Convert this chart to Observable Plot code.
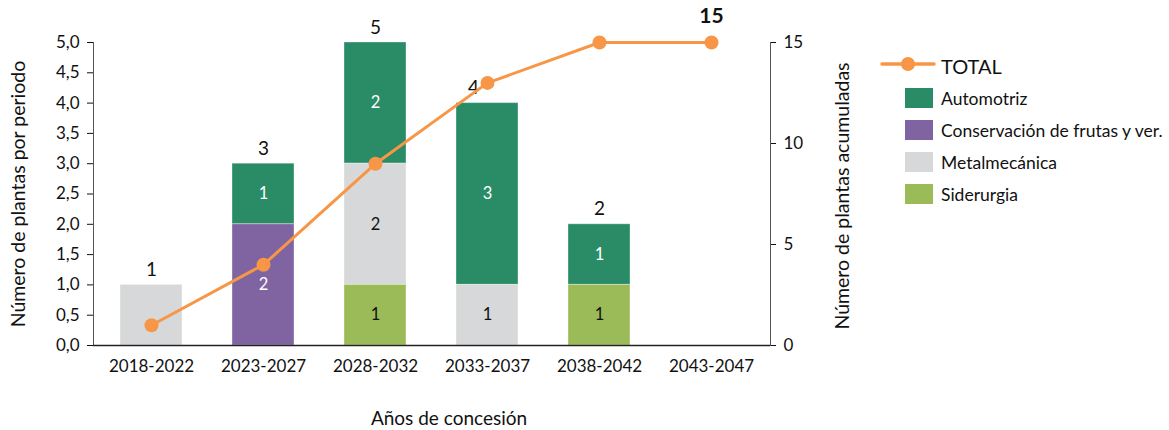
<!DOCTYPE html>
<html><head><meta charset="utf-8">
<script src="https://cdn.jsdelivr.net/npm/d3@7"></script>
<script src="https://cdn.jsdelivr.net/npm/@observablehq/plot@0.6"></script>
<style>
body{margin:0;background:#fff;font-family:Lato,sans-serif;}
#wrap{position:relative;width:1169px;height:430px;}
#legend{position:absolute;left:0;top:0;width:1169px;height:430px;pointer-events:none;}
.li{position:absolute;left:941px;font-size:17.5px;color:#111;white-space:nowrap;transform:translateY(-50%);}
.sw{position:absolute;left:905px;width:28px;height:20px;transform:translateY(-50%);}
</style></head><body>
<div id="wrap"><div id="chart"></div><div id="legend"></div></div>
<script>
const periods = ["2018-2022","2023-2027","2028-2032","2033-2037","2038-2042","2043-2047"];
const sectors = ["Automotriz","Conservación de frutas y ver.","Metalmecánica","Siderurgia"];
const automotriz   = [0,1,2,3,1,0];
const conservacion = [0,2,0,0,0,0];
const metalmecanica= [1,0,2,1,0,0];
const siderurgia   = [0,0,1,0,1,0];
const acumulado    = [1,4,9,13,15,15];
const leftTicks  = [0,0.5,1,1.5,2,2.5,3,3.5,4,4.5,5];
const rightTicks = [0,5,10,15];
const colors = ["#2a8c67","#8064a2","#d7d8d9","#9bbb59"];
const xTitle = "Años de concesión";
const yLeftTitle = "Número de plantas por periodo";
const yRightTitle = "Número de plantas acumuladas";

const seriesVals = [automotriz, conservacion, metalmecanica, siderurgia];
const stackOrder = ["Siderurgia","Metalmecánica","Conservación de frutas y ver.","Automotriz"];
const rows = [];
periods.forEach((p,i)=>sectors.forEach((s,j)=>{ if (seriesVals[j][i]>0) rows.push({period:p, sector:s, value:seriesVals[j][i]}); }));
const segCount = d3.rollup(rows, v=>v.length, d=>d.period);
const totals = periods.map((p,i)=>({period:p, total: seriesVals.reduce((a,s)=>a+s[i],0)})).filter(d=>d.total>0);
const leftMax = leftTicks[leftTicks.length-1], rightMax = rightTicks[rightTicks.length-1];
const ratio = leftMax/rightMax;
const cum = periods.map((p,i)=>({period:p, cum:acumulado[i]}));
const whiteText = new Set(["Automotriz","Conservación de frutas y ver."]);
const shifted = "2033-2037";

const fmt = d => d.toFixed(1).replace(".", ",");
const stackOpts = {order:stackOrder, x:"period", y:"value", z:"sector", text:d=>String(d.value), fontSize:16.5};

const chart = Plot.plot({
  width:1169, height:430,
  marginLeft:93, marginRight:399, marginTop:42, marginBottom:85,
  style:{fontFamily:"Lato, sans-serif", fontSize:"17px", color:"#111", background:"#fff"},
  x:{domain:periods, paddingInner:0.444, paddingOuter:0.222, axis:null},
  y:{domain:[0,leftMax], axis:null},
  color:{domain:sectors, range:colors},
  marks:[
    Plot.barY(rows, Plot.stackY({order:stackOrder, x:"period", y:"value", z:"sector", fill:"sector", stroke:"#fff", strokeOpacity:0.35, strokeWidth:1})),
    Plot.text(rows, Plot.filter(d=>whiteText.has(d.sector) && segCount.get(d.period)>1, Plot.stackY({...stackOpts, fill:"#fff"}))),
    Plot.text(rows, Plot.filter(d=>!whiteText.has(d.sector) && segCount.get(d.period)>1, Plot.stackY({...stackOpts, fill:"#111"}))),
    Plot.axisX({tickSize:0, tickPadding:14, fontSize:17, label:null}),
    Plot.axisY({anchor:"left", ticks:leftTicks, tickFormat:fmt, tickSize:6, tickPadding:8, fontSize:17, label:null}),
    Plot.axisY({anchor:"right", ticks:rightTicks.map(v=>v*ratio), tickFormat:d=>String(Math.round(d/ratio)), tickSize:5, tickPadding:8, fontSize:17, label:null}),
    Plot.text([yLeftTitle], {text:d=>d, frameAnchor:"left", textAnchor:"middle", rotate:-90, dx:-75, fontSize:19.5, fill:"#111"}),
    Plot.text([yRightTitle], {text:d=>d, frameAnchor:"right", textAnchor:"middle", rotate:-90, dx:72, dy:2, fontSize:19.5, fill:"#111"}),
    Plot.text([xTitle], {text:d=>d, frameAnchor:"bottom", dy:79, dx:17, fontSize:19, fill:"#111"}),
    Plot.frame({anchor:"left", stroke:"#555"}),
    Plot.frame({anchor:"right", stroke:"#555"}),
    Plot.ruleY([0], {stroke:"#222", strokeWidth:1.5}),
    Plot.text(totals.filter(d=>d.period!==shifted), {x:"period", y:"total", text:d=>String(d.total), dy:-15, fontSize:19, fill:"#111"}),
    Plot.text(totals.filter(d=>d.period===shifted), {x:"period", y:"total", text:d=>String(d.total), dy:-15, dx:-14, fontSize:19, fill:"#111"}),
    Plot.line(cum, {x:"period", y:d=>d.cum*ratio, stroke:"#f79646", strokeWidth:3}),
    Plot.dot(cum, {x:"period", y:d=>d.cum*ratio, r:7, fill:"#f79646"}),
    Plot.text(cum.slice(-1), {x:"period", y:d=>d.cum*ratio, text:d=>String(d.cum), dy:-26, fontSize:21, fontWeight:"bold", fill:"#111"})
  ]
});
document.getElementById("chart").appendChild(chart);

// legend
const leg = document.getElementById("legend");
const tl = document.createElement("div");
tl.innerHTML = '<svg width="60" height="20" style="position:absolute;left:880px;top:54px"><line x1="2" y1="10" x2="54" y2="10" stroke="#f79646" stroke-width="3.5" stroke-linecap="round"/><circle cx="28" cy="10" r="7" fill="#f79646"/></svg><div class="li" style="top:66px;font-size:20px">TOTAL</div>';
leg.appendChild(tl);
const legendY = [98,130,162,194];
sectors.forEach((s,i)=>{
  const sw = document.createElement("div"); sw.className="sw"; sw.style.top=legendY[i]+"px"; sw.style.background=colors[i]; leg.appendChild(sw);
  const t = document.createElement("div"); t.className="li"; t.style.top=legendY[i]+"px"; t.textContent=s; leg.appendChild(t);
});
</script></body></html>
